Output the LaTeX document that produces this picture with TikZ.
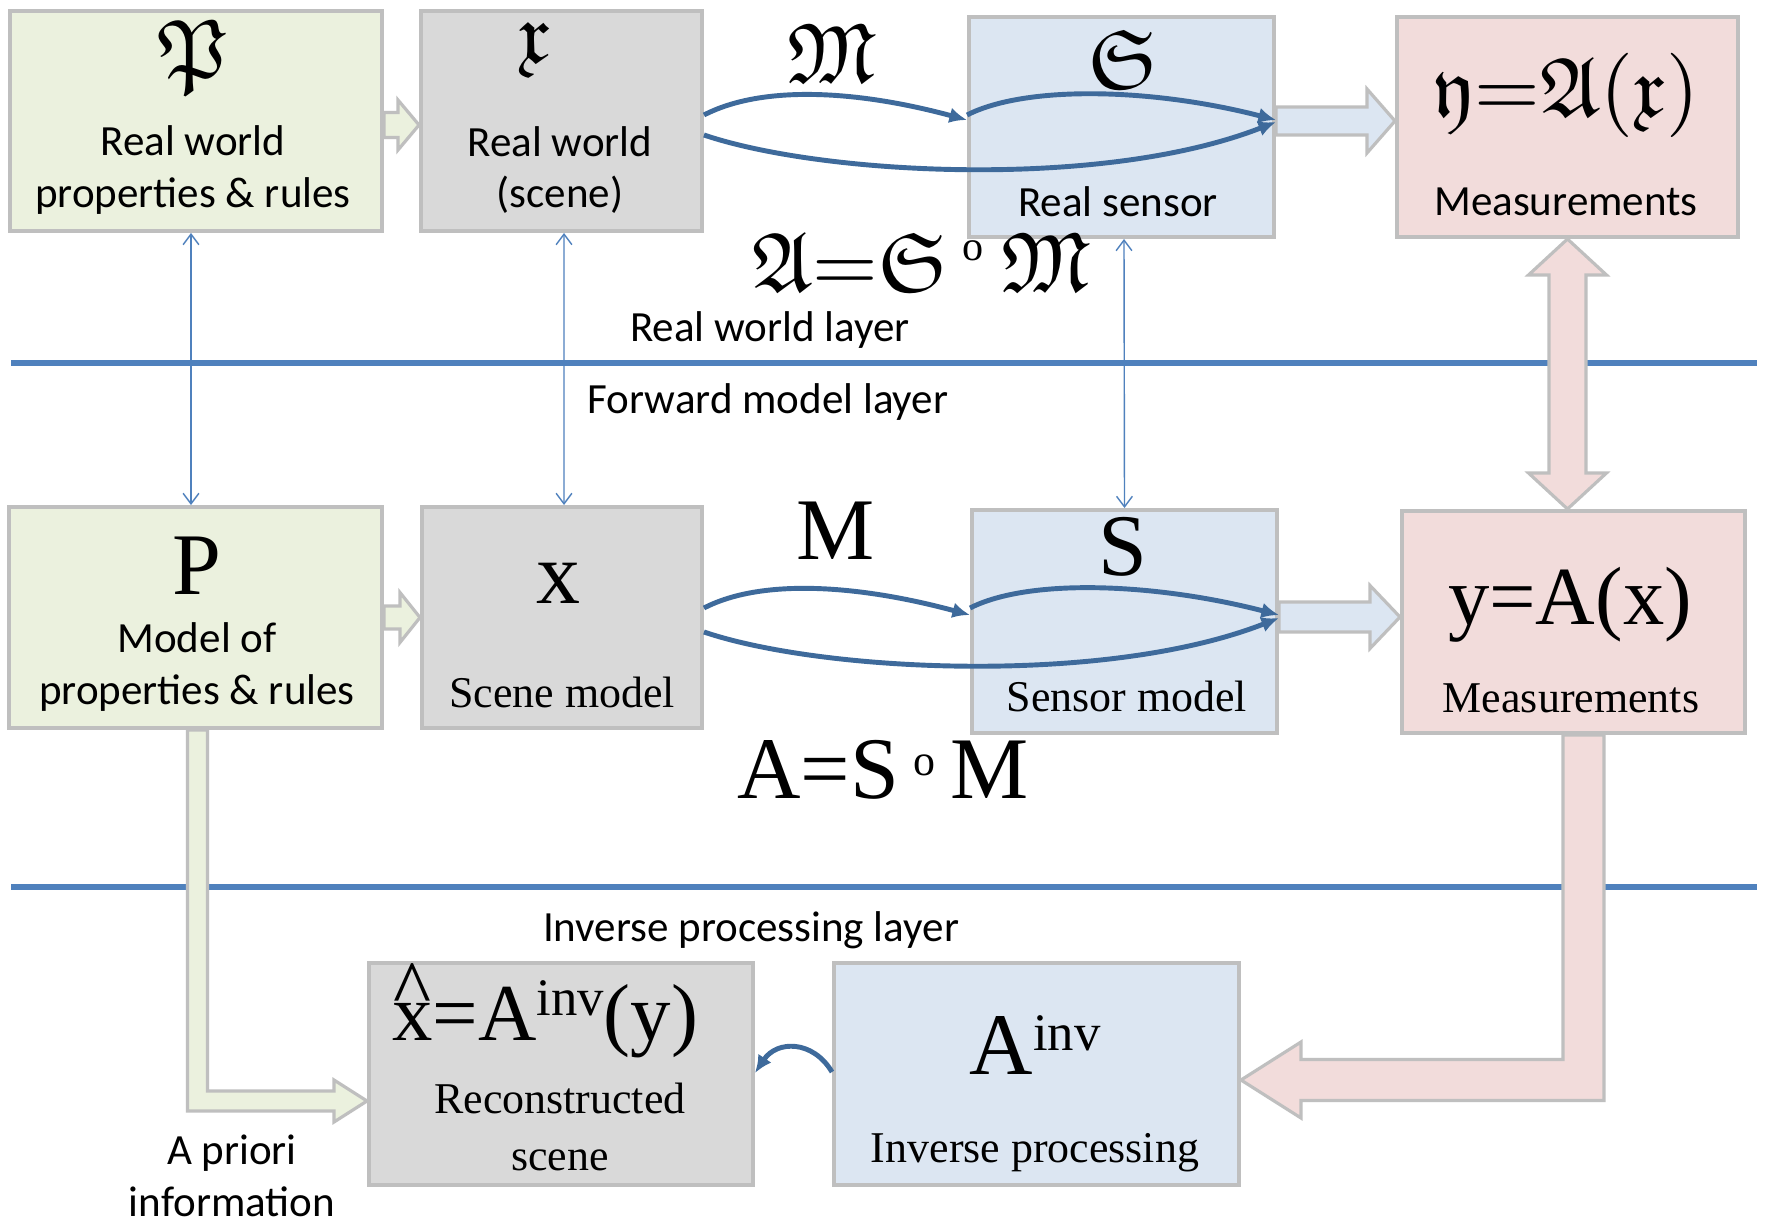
\documentclass[tikz,border=0pt]{standalone}
\usepackage{fontspec}
\usepackage{amssymb}
\setmainfont{Liberation Serif}
\newfontfamily\calib{Carlito}
\usetikzlibrary{calc,arrows.meta}
\definecolor{gfill}{HTML}{EBF1DE}
\definecolor{xfill}{HTML}{D9D9D9}
\definecolor{bfill}{HTML}{DCE6F2}
\definecolor{pfill}{HTML}{F2DCDB}
\definecolor{bord}{HTML}{BFBFBF}
\definecolor{lblue}{HTML}{4F81BD}
\definecolor{cblue}{HTML}{3E6A9B}
\pgfdeclarelayer{bg}
\pgfsetlayers{bg,main}
\newcommand\hatx{\ooalign{x\cr\hidewidth\raisebox{0.29em}{\textasciicircum}\hidewidth\cr}}
% horizontal block arrow: from, to, dy, shaft half, head half, head length, fill
\newcommand\rblock[7]{%
  \coordinate (bs) at ($(#1)+(0,#3)$);
  \coordinate (bt) at (bs -| #2);
  \draw[block,fill=#7] ($(bs)+(0,-#4)$) -- ($(bt)+(-#6,-#4)$) -- ($(bt)+(-#6,-#5)$) -- (bt)
    -- ($(bt)+(-#6,#5)$) -- ($(bt)+(-#6,#4)$) -- ($(bs)+(0,#4)$) -- cycle;}
\begin{document}
\begin{tikzpicture}[x=0.02cm,y=-0.02cm,
  box/.style={draw=bord, line width=2.3pt, inner sep=0pt, rectangle},
  sans/.style={font=\calib\fontsize{24.5}{29.5}\selectfont, align=center, inner sep=0pt},
  serif/.style={font=\fontsize{25}{32}\selectfont, align=center, inner sep=0pt},
  big/.style={font=\fontsize{50}{50}\selectfont, inner sep=0pt},
  frak/.style={font=\fontsize{10}{12}\selectfont, scale=4.8, inner sep=0pt},
  layerline/.style={draw=lblue, line width=3.4pt},
  flow/.style={draw=cblue, line width=2.8pt, -{Latex[length=10pt,width=9pt]}},
  link/.style={draw=lblue, line width=0.8pt, {Straight Barb[length=6pt,width=9pt]}-{Straight Barb[length=6pt,width=9pt]}},
  block/.style={draw=bord, line width=1.8pt, line join=miter}]
\useasboundingbox (0,0) rectangle (1766,1223);

% boxes
\node[box, fill=gfill, minimum width=7.44cm, minimum height=4.4cm] (rp) at (196,121) {};
\node[box, fill=xfill, minimum width=5.62cm, minimum height=4.4cm] (rx) at (561.5,121) {};
\node[box, fill=bfill, minimum width=6.1cm, minimum height=4.4cm] (rs) at (1121.5,127) {};
\node[box, fill=pfill, minimum width=6.82cm, minimum height=4.4cm] (ry) at (1567.5,127) {};
\node[box, fill=gfill, minimum width=7.46cm, minimum height=4.42cm] (mp) at (195.5,617.5) {};
\node[box, fill=xfill, minimum width=5.6cm, minimum height=4.42cm] (mx) at (562,617.5) {};
\node[box, fill=bfill, minimum width=6.1cm, minimum height=4.46cm] (ms) at (1124.5,621.5) {};
\node[box, fill=pfill, minimum width=6.86cm, minimum height=4.44cm] (my) at (1573.5,622) {};
\node[box, fill=xfill, minimum width=7.68cm, minimum height=4.44cm] (rc) at (561,1074) {};
\node[box, fill=bfill, minimum width=8.1cm, minimum height=4.44cm] (iv) at (1036.5,1074) {};

\begin{pgfonlayer}{bg}
\fill[white] (0,0) rectangle (1766,1223);
\draw[layerline] (11,363) -- (1757,363);
\draw[layerline] (11,887) -- (1757,887);
% block arrows
\rblock{rp.east}{rx.west}{4}{12.5}{25}{21}{gfill}
\rblock{mp.east}{mx.west}{0}{11.5}{25}{20}{gfill}
\rblock{rs.east}{ry.west}{-6}{14}{32}{28}{bfill}
\rblock{ms.east}{my.west}{-4.5}{15}{31.5}{30}{bfill}
% vertical double block arrow
\coordinate (da) at (ry.south);
\coordinate (db) at (ry.south |- my.north);
\draw[block,fill=pfill] (da) -- ++(39,36) -- ++(-20.5,0) -- ($(db)+(18.5,-36)$) -- ++(20.5,0) -- (db)
  -- ++(-39,-36) -- ++(20.5,0) -- ($(da)+(-18.5,36)$) -- ++(-20.5,0) -- cycle;
% green L arrow
\coordinate (g0) at ($(mp.south)+(2,0)$);
\coordinate (g1) at ($(rc.west)+(0,27)$);
\coordinate (gc) at (g0 |- g1);
\draw[block,fill=gfill] ($(g0)+(-10,0)$) -- ($(g0)+(10,0)$) -- ($(gc)+(10,-10)$) -- ($(g1)+(-33,-10)$)
  -- ($(g1)+(-33,-21)$) -- (g1) -- ($(g1)+(-33,21)$) -- ($(g1)+(-33,10)$) -- ($(gc)+(-10,10)$) -- cycle;
% pink L arrow
\coordinate (p0) at ($(my.south)+(10,0)$);
\coordinate (p1) at ($(iv.east)+(0,6)$);
\coordinate (pc) at (p0 |- p1);
\draw[block,fill=pfill] ($(p0)+(-20.5,0)$) -- ($(p0)+(20.5,0)$) -- ($(pc)+(20.5,20.5)$) -- ($(p1)+(60,20.5)$)
  -- ($(p1)+(60,38)$) -- (p1) -- ($(p1)+(60,-38)$) -- ($(p1)+(60,-20.5)$) -- ($(pc)+(-20.5,-20.5)$) -- cycle;
\end{pgfonlayer}

% thin links between layers
\draw[link] ($(rp.south)+(-5,0)$) -- ($(mp.north)+(-4.5,0)$);
\draw[link] ($(rx.south)+(2.5,0)$) -- ($(mx.north)+(2,0)$);
\draw[link] ($(rs.south)+(2.5,0)$) -- ($(ms.north)+(0,0)$);

% flow curves, real world
\draw[flow] ($(rx.east)+(0,-6)$) .. controls +(58,-30) and +(-111,-30) .. ($(rs.west)+(0,-7)$);
\draw[flow] ($(rs.west)+(0,-12)$) .. controls +(59,-30) and +(-124,-32) .. ($(rs.east)+(0,-7)$);
\draw[flow] ($(rx.east)+(0,14)$) .. controls +(118,40) and +(-174,68) .. ($(rs.east)+(0,-5)$);
% flow curves, model
\draw[flow] ($(mx.east)+(0,-9.5)$) .. controls +(58,-30) and +(-111,-30) .. ($(ms.west)+(0,-6.5)$);
\draw[flow] ($(ms.west)+(0,-13.5)$) .. controls +(59,-30) and +(-124,-32) .. ($(ms.east)+(0,-6.5)$);
\draw[flow] ($(mx.east)+(0,14.5)$) .. controls +(118,40) and +(-174,68) .. ($(ms.east)+(0,-3.5)$);
% inverse curve
\draw[flow] ($(iv.west)+(0,-2)$) .. controls +(-19,-32) and +(22,-33) .. ($(rc.east)+(0,-1)$);

% fraktur symbols
\node[frak] (tP) at (193,57) {$\mathfrak{P}$};
\node[frak] (tX) at (535,50) {$\mathfrak{x}$};
\node[frak] (tM) at (832,53) {$\mathfrak{M}$};
\node[frak] (tS) at (1123,59) {$\mathfrak{S}$};
\node[frak] (tY) at (1566,95) {$\mathfrak{y}{=}\mathfrak{A}(\mathfrak{x})$};
\node[frak] (tA) at (921,262) {$\mathfrak{A}{=}\mathfrak{S}\,{}^{\scriptscriptstyle\mathrm{o}}\,\mathfrak{M}$};

% sans labels
\node[sans] (l1) at (193,170) {Real world\\properties \& rules};
\node[sans] (l2) at (560,170) {Real world\\(scene)};
\node[sans] (l3) at (1118,202) {Real sensor};
\node[sans] (l4) at (1566,202) {Measurements};
\node[sans] (l5) at (770,330) {Real world layer};
\node[sans] (l6) at (768,402) {Forward model layer};
\node[sans] (l7) at (197,667) {Model of\\properties \& rules};
\node[sans] (l8) at (751,930) {Inverse processing layer};
\node[sans] (l9) at (232,1176) {A priori\\information};

% serif labels
\node[big] (sP) at (197,566) {P};
\node[big] (sX) at (558,583) {x};
\node[big] (sM) at (836,531) {M};
\node[big] (sS) at (1123,547) {S};
\node[serif] (sScene) at (562,692) {Scene model};
\node[serif] (sSensor) at (1127,696) {Sensor model};
\node[font=\fontsize{47}{47}\selectfont, inner sep=0pt] (sY) at (1570,605) {y=A(x)};
\node[serif] (sMeas) at (1571,698) {Measurements};
\node[big] (sA) at (883,770) {A=S\,\raisebox{13pt}{\fontsize{25}{25}\selectfont o}\,M};
\node[font=\fontsize{46}{46}\selectfont, inner sep=0pt] (sR) at (545,1019) {\hatx=A\raisebox{14pt}{\fontsize{30}{30}\selectfont inv}(y)};
\node[serif] (sRec) at (560,1127) {Reconstructed\\scene};
\node[big] (sI) at (1035,1045) {A\raisebox{14pt}{\fontsize{30}{30}\selectfont inv}};
\node[serif] (sInv) at (1035,1153) {Inverse processing};
\end{tikzpicture}
\end{document}
